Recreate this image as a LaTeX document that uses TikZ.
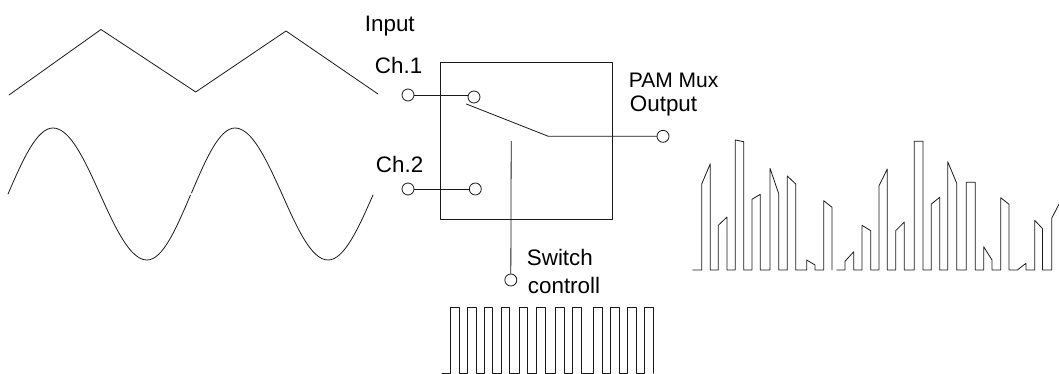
\documentclass[tikz,border=0pt]{standalone}
\usepackage{fontspec}
\setmainfont{Liberation Sans}
\tikzset{every picture/.style={line width=0.8pt}}
\tikzset{
	port/.style={draw, circle, inner sep=0pt, minimum size=12pt},
	lbl/.style={anchor=base west, inner sep=0pt, text=black}
}
\begin{document}
\begin{tikzpicture}[x=1pt, y=-1pt, line join = round, line cap = round, font=\fontsize{22.4}{24}\selectfont, color=black!90]
	\useasboundingbox (0,0) rectangle (1059,374);
	\path (440.5,62.5)coordinate(P)
		(612.7,219)coordinate(Q)
		(466.3,104)coordinate(ArmA)
		(548.3,136.3)coordinate(ArmB)
		(511.2,141.3)coordinate(CtlTop);
	% terminals
	\foreach \n/\a/\b in {InA/408/95,InB/408/189,SwA/474/97,SwB/475.3/189,Out/663/136.3,Ctl/510.8/280}
		\node[port] (\n) at (\a,\b) {};
	% labels
	\node[lbl] (Input) at (364.5,32) {Input};
	\node[lbl] (ChA) at (374.5,74) {Ch.1};
	\node[lbl] (ChB) at (375.5,172.7) {Ch.2};
	\node[lbl, font=\fontsize{21}{24}\selectfont] (Pam) at (628.5,88) {PAM Mux};
	\node[lbl] (Output) at (629.5,112) {Output};
	\node[lbl] (Switch) at (526.5,265) {Switch};
	\node[lbl] (Controll) at (527.5,293) {controll};
	% mux box and switch
	\draw (P) rectangle (Q);
	\draw (InA) -- (InA -| SwA.west);
	\draw (InB) -- (SwB);
	\draw (ArmA) -- (ArmB) -- (Out);
	\draw (CtlTop) -- (Ctl);
	% input signals
	\draw (9,95)--(101,29.5)--(195.7,92)--(286,31)--(378,94);
	\draw (8,194) sin (53,128) cos (100,194) sin (147,260) cos (190.5,195);
	\draw (191.5,193) sin (235,128) cos (282,194) sin (328,260) cos (373,195);
	% control pulses
	\draw (442,373.3) \foreach \a/\b in {450.7/459.3,467.3/476,484/492.7,501/509.7,519/527.7,536.3/545,555.7/564.3,572.7/581.3,593.7/602.3,610.7/619.3,627.3/636,644.3/653}
		{-- (\a,373.3) -- (\a,307) -- (\b,307) -- (\b,373.3)};
	% PAM output
	\draw (692.7,270) \foreach \a/\c/\b/\d in {701.7/184/710.3/163.7,718.3/225.3/727/217,735.3/140/743.7/141.7,752/199.3/760.3/194.3,770/168.3/778.7/193.7,787.3/176/795.7/184,806.7/260/815/265,823.7/200.7/832/207.3}
		{-- (\a,270) -- (\a,\c) -- (\b,\d) -- (\b,270)};
	\draw (836.7,270) \foreach \a/\c/\b/\d in {845/261.3/853.7/251.7,862/225.3/870.7/230.7,879/185.7/887.3/169,895.7/230.7/904.3/222,914.3/141.3/923/141.3,931.3/204/939.7/197.3,947.7/161.7/956.7/183.3,966.3/182.3/975.3/182.3,983.7/246.7/992/260,1000.7/197.7/1009/204.3,1017.3/270/1026/263.3,1034.7/220.3/1042.5/228.7}
		{-- (\a,270) -- (\a,\c) -- (\b,\d) -- (\b,270)}
		-- (1051.7,270) -- (1051.7,218.3) -- (1059,204);
\end{tikzpicture}
\end{document}
